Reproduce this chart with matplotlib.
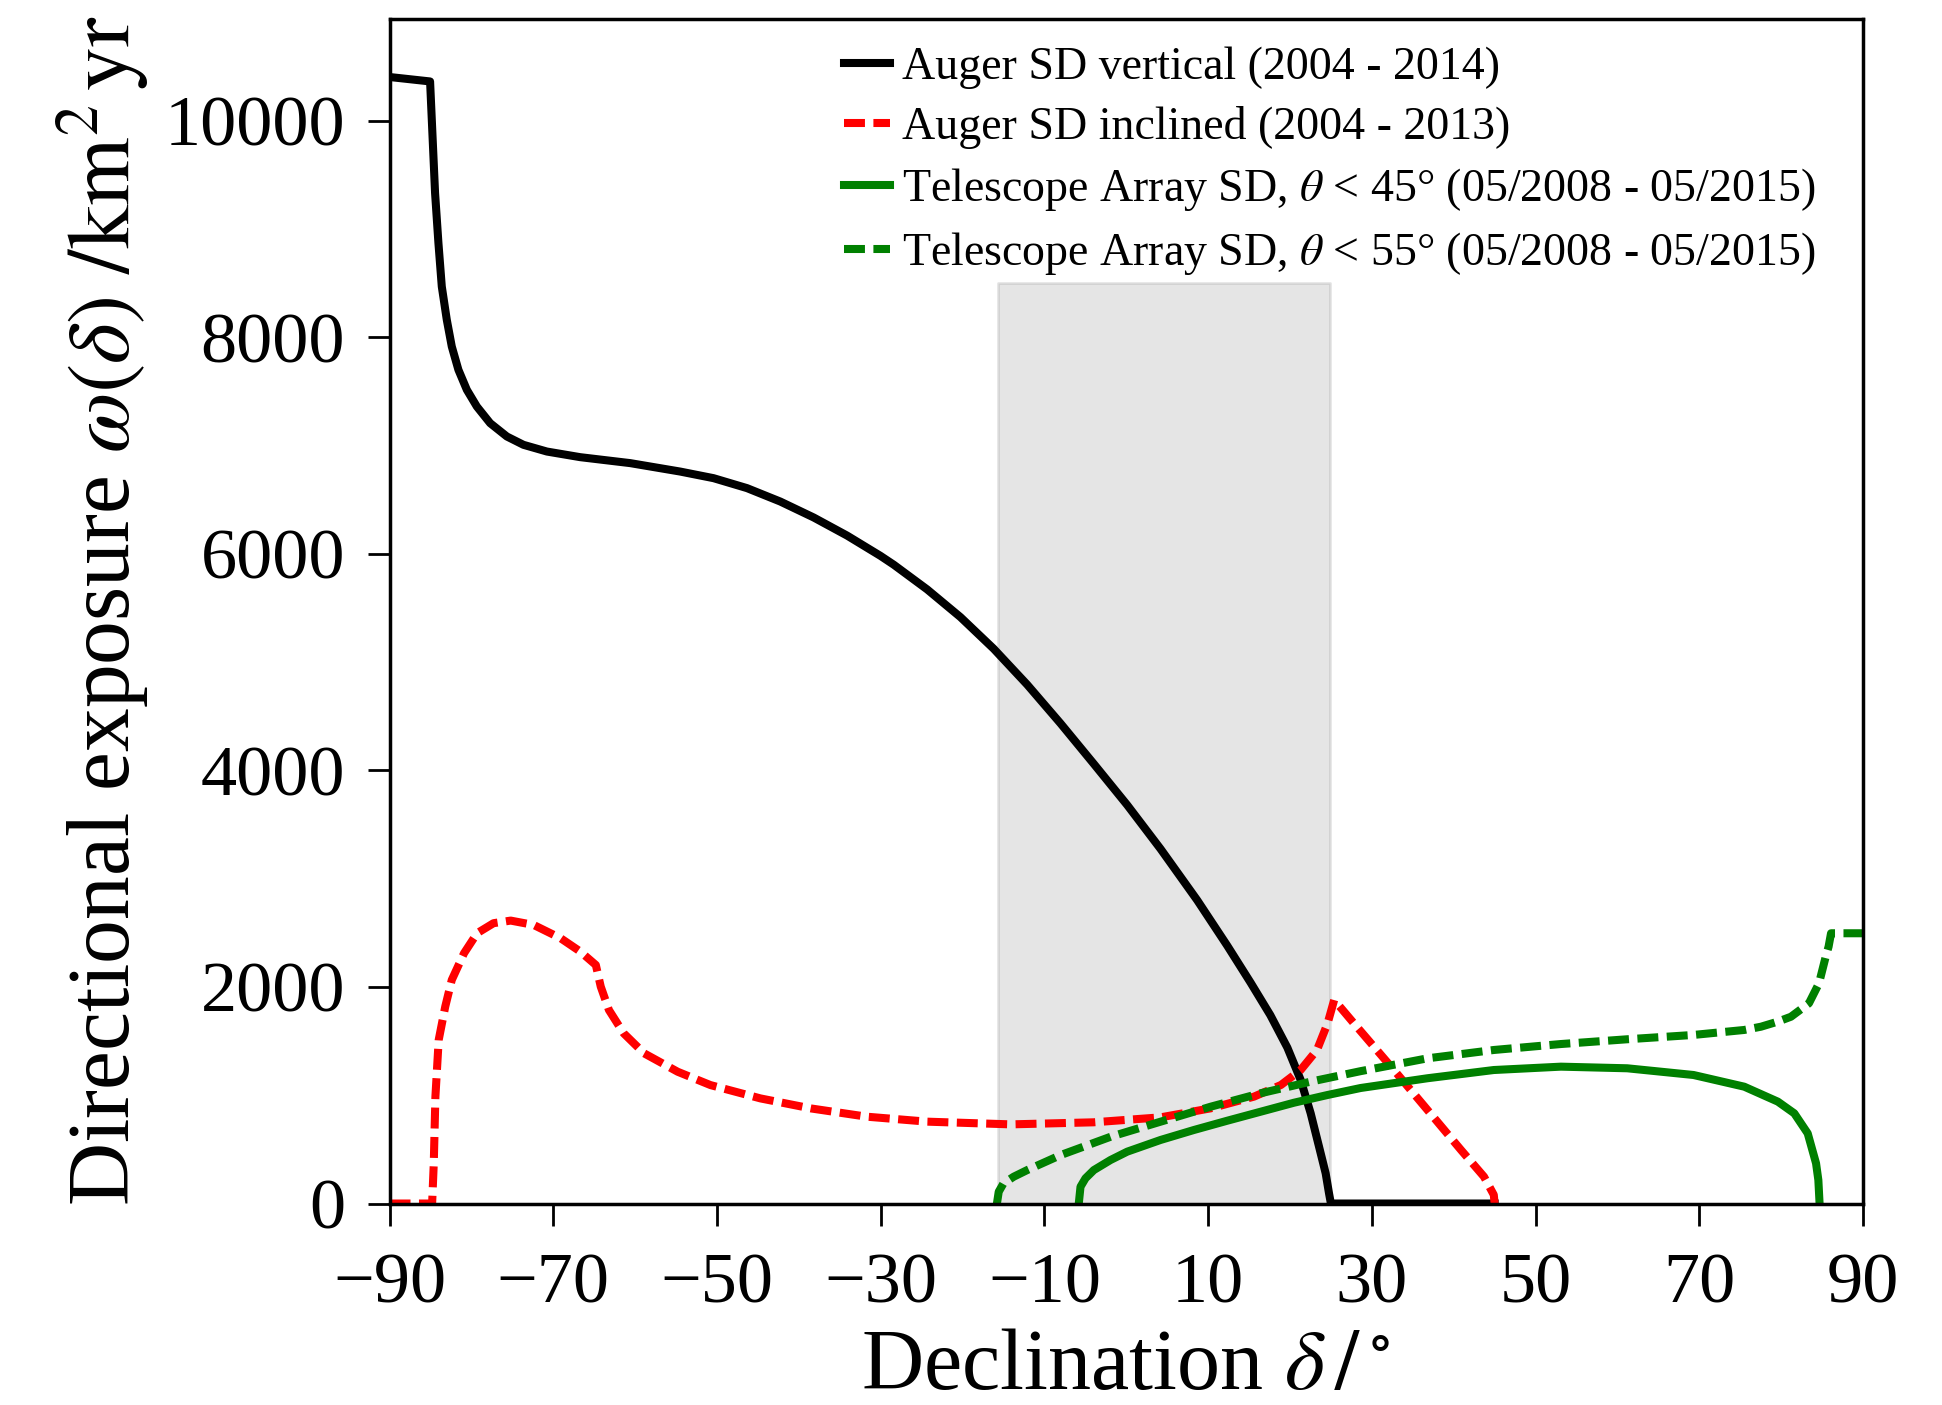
import matplotlib
matplotlib.use('Agg')
from matplotlib import pyplot as plt

# values
dec_vert = [-90, -85.05, -84.44, -84.03, -83.62, -83.01, -82.40, -81.59, -80.56, -79.34,
            -77.71, -75.67, -73.64, -70.78, -66.71, -60.60, -54.49, -50.42, -46.33, -42.26,
            -38.19, -34.11, -30.04, -28.41, -24.33, -20.26, -16.19, -12.10, -8.03, -3.96,
            0.12, 4.19, 8.68, 12.35, 15.19, 17.6, 19.68, 21.31, 22.53, 23.55, 24.36,
            24.77, 25.0, 45]
exp_vert = [10404, 10363, 9332, 8870, 8469, 8162, 7915, 7700, 7515, 7361,
            7207, 7084, 7007, 6945, 6893, 6838, 6760, 6699, 6607, 6483,
            6336, 6169, 5982, 5900, 5672, 5416, 5123, 4792, 4434, 4060,
            3680, 3275, 2800, 2380, 2040, 1740, 1440, 1141, 833, 525, 279,
            94, 0, 0]

dec_incl = [-90, -84.8, -84.6, -84.4, -84.0, -83.2, -82.4, -80.9, -79.3, -77.3, -75.2, -72.4,
            -69.1, -66.7, -64.8, -64.2, -63.2, -61.4, -58.9, -54.8, -50.8, -44.7, -38.5,
            -31.7, -24.3, -14.1, -4.0, 4.2, 10.3, 15.6, 18.9, 21.3, 23.3, 24.6, 25.4,
            27.8, 32.7, 36.8, 40.9, 43.7, 44.9, 45]
exp_incl = [0, 0, 370, 986, 1510, 1818, 2065, 2312, 2497, 2589, 2613, 2573,
            2450, 2327, 2203, 2003, 1787, 1572, 1387, 1217, 1094, 971, 878,
            802, 756, 731, 750, 796, 879, 987, 1095, 1233, 1418, 1665, 1880,
            1665, 1233, 864, 494, 248, 80, 0]

dec_ta45 = [-5.8, -5.59, -4.98, -3.96, -1.92, 0.12, 4.19, 8.26, 12.35, 16.42, 20.49, 24.57,
            28.64, 36.8, 44.9, 53.1, 61.2, 69.3, 75.5, 79.6, 81.61, 83.25, 84.27, 84.55, 84.7]
exp_ta45 = [0, 155, 233, 309, 402, 479, 587, 679, 765, 848, 931, 1002,
            1067, 1157, 1233, 1264, 1249, 1187, 1079, 941, 833, 648, 371, 217, 0]

dec_ta55 = [-15.8, -15.58, -15.0, -13.74, -12.1, -8.0, -1.9, 4.2, 10.3, 16.4, 22.5, 28.6,
            36.8, 44.9, 53.1, 61.2, 69.3, 75.5, 77.54, 79.6, 81.2, 83.4, 84.63, 85.45, 85.8,
            86.1, 90]
exp_ta55 = [0, 109, 186, 248, 309, 448, 617, 756, 894, 1018, 1125, 1222,
            1341, 1418, 1473, 1517, 1557, 1603, 1633, 1680, 1725, 1849, 2034, 2280, 2372,
            2496, 2496]

band_dec = [-15.7, 24.9]
band_top = 8500

labels = ['Auger SD vertical (2004 - 2014)',
          'Auger SD inclined (2004 - 2013)',
          r'Telescope Array SD, $\theta$ < 45° (05/2008 - 05/2015)',
          r'Telescope Array SD, $\theta$ < 55° (05/2008 - 05/2015)']

plt.rcParams['font.family'] = ['Liberation Serif', 'DejaVu Serif']
plt.rcParams['mathtext.fontset'] = 'stix'

fig = plt.figure(figsize=(19.42, 14.05), dpi=100)
ax = fig.add_axes([0.2006, 0.1434, 0.7587, 0.8431])

ax.fill_between(band_dec, 0, band_top, color='gray', alpha=0.2, lw=2)

lw = 5.8
dash = (0, (2.6, 1.05))
ax.plot(dec_vert, exp_vert, color='black', lw=lw, label=labels[0])
ax.plot(dec_incl, exp_incl, color='red', lw=lw, ls=dash, label=labels[1])
ax.plot(dec_ta45, exp_ta45, color='green', lw=lw, label=labels[2])
ax.plot(dec_ta55, exp_ta55, color='green', lw=lw, ls=dash, label=labels[3])

ax.set_xlim(-90, 90)
ax.set_ylim(0, 10940)
ax.set_xticks(range(-90, 91, 20))
ax.set_yticks(range(0, 10001, 2000))
ax.tick_params(labelsize=52, length=16, width=2, direction='out', pad=16)
ax.tick_params(axis='x', pad=19)
for s in ax.spines.values():
    s.set_linewidth(2.5)

ax.set_xlabel(r'Declination $\delta\,/\,^{\circ}$', fontsize=62, labelpad=8)
ax.set_ylabel(r'Directional exposure $\omega(\delta)\ /\mathrm{km}^2\,\mathrm{yr}$',
              fontsize=63, labelpad=10)

ax.legend(loc='upper left', bbox_to_anchor=(0.29, 1.0), frameon=False, fontsize=33,
          handlelength=1.0, handletextpad=0.25, labelspacing=0.37, borderaxespad=0.2)

fig.savefig('out.png', dpi=100)
